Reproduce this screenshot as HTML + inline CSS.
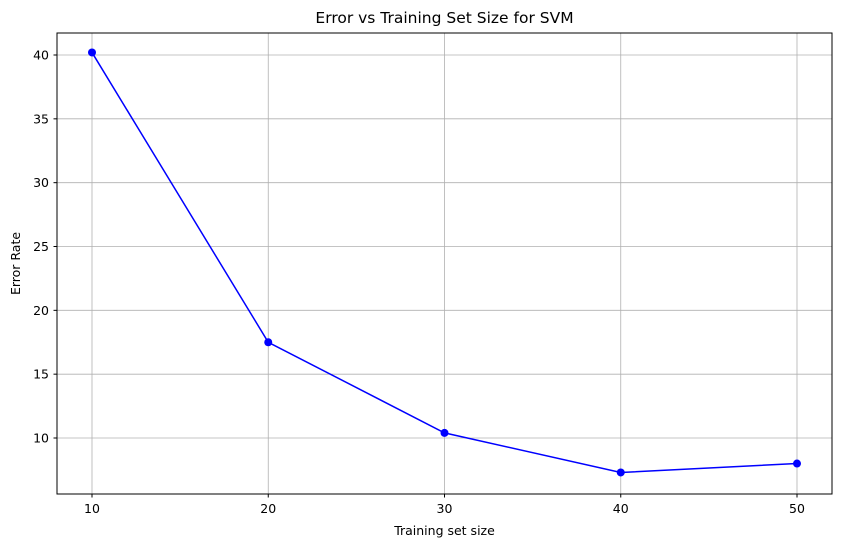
<!DOCTYPE html>
<html><head><meta charset="utf-8"><style>
body{margin:0;background:#fff;}
svg text{font-family:"DejaVu Sans","Liberation Sans",sans-serif;fill:#000;}
</style></head><body>
<svg id="chart" width="841" height="547" xmlns="http://www.w3.org/2000/svg">
<rect width="841" height="547" fill="#fff"/>
<g id="grid"></g>
<g id="ticks"></g>
<g id="series"></g>
<rect x="57" y="33" width="775" height="461" fill="none" stroke="#000" stroke-width="1"/>
<text x="444.5" y="23" text-anchor="middle" font-size="15.5">Error vs Training Set Size for SVM</text>
<text x="444.5" y="535" text-anchor="middle" font-size="12.5">Training set size</text>
<text transform="translate(20,263.5) rotate(-90)" text-anchor="middle" font-size="12.5">Error Rate</text>
</svg>
<script>
const categories=[10,20,30,40,50];
const errorValues=[40.2,17.5,10.4,7.3,8.0];
const xTicks=[10,20,30,40,50];
const yTicks=[10,15,20,25,30,35,40];
const L=57,R=832,T=33,B=494;
function xs(v){return 92+(v-10)*(797-92)/40;}
function ys(v){return 438-(v-10)*(438-55)/30;}
const ns="http://www.w3.org/2000/svg";
function mk(tag,attrs,parent){const e=document.createElementNS(ns,tag);for(const k in attrs)e.setAttribute(k,attrs[k]);document.getElementById(parent).appendChild(e);return e;}
xTicks.forEach(t=>{
 const x=xs(t);
 const g=mk('line',{x1:x,x2:x,y1:T,y2:B,stroke:'#b0b0b0','stroke-width':0.8},'grid');
 
 
 const tk=mk('line',{x1:x,x2:x,y1:B,y2:B+3.5,stroke:'#000'},'ticks');
 
 
 const tx=mk('text',{x:x,y:B+19,'text-anchor':'middle','font-size':12.5},'ticks');
 tx.textContent=t;
 
 
});
yTicks.forEach(t=>{
 const y=ys(t);
 const g=mk('line',{x1:L,x2:R,y1:y,y2:y,stroke:'#b0b0b0','stroke-width':0.8},'grid');
 
 
 const tk=mk('line',{x1:L-3.5,x2:L,y1:y,y2:y,stroke:'#000'},'ticks');
 
 
 const tx=mk('text',{x:L-8,y:y+4.5,'text-anchor':'end','font-size':12.5},'ticks');
 tx.textContent=t;
 
 
});
const pts=categories.map((c,i)=>xs(c)+','+ys(errorValues[i])).join(' ');
const line=mk('polyline',{points:pts,fill:'none',stroke:'#0000ff','stroke-width':1.5},'series');


categories.forEach((c,i)=>{
 const p=mk('circle',{cx:xs(c),cy:ys(errorValues[i]),r:4,fill:'#0000ff'},'series');
 
 
});
</script>
</body></html>
